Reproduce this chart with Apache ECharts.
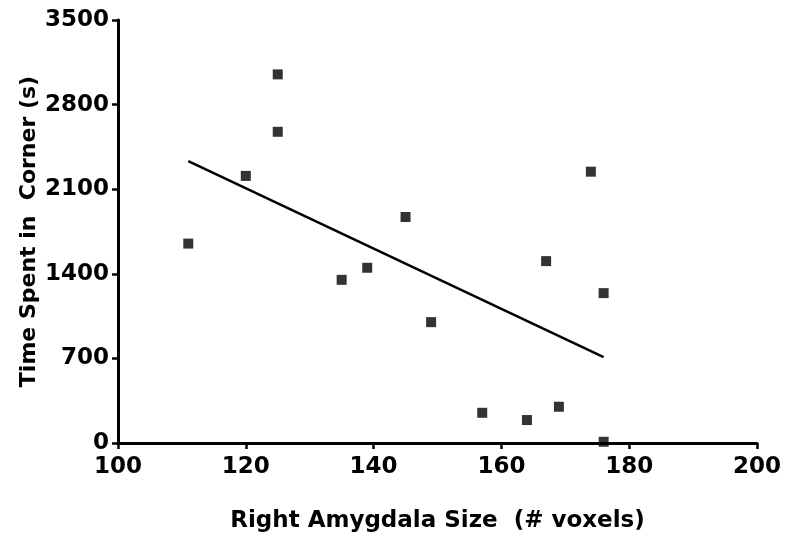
<!DOCTYPE html>
<html>
<head>
<meta charset="utf-8">
<script src="https://cdn.jsdelivr.net/npm/echarts@6/dist/echarts.min.js"></script>
<style>
  html, body { margin: 0; padding: 0; background: #fff; }
  #chart { width: 787px; height: 542px; }
</style>
</head>
<body>
<div id="chart"></div>
<script>
// Amygdala size vs time spent in corner
const amygdalaSize = [111, 120, 125, 125, 135, 139, 145, 149, 157, 164, 167, 169, 174, 176, 176];
const cornerTime = [1650, 2210, 3050, 2575, 1350, 1450, 1870, 1000, 250, 190, 1505, 300, 2245, 1240, 10];

// Regression line end points
const fitX = [111, 176];
const fitY = [2333, 711];

const yTicks = [0, 700, 1400, 2100, 2800, 3500];

const chart = echarts.init(document.getElementById('chart'));

const labelFont = {
    color: '#000',
    fontFamily: 'DejaVu Sans, sans-serif',
    fontWeight: 'bold'
};

chart.setOption({
    animation: false,
    backgroundColor: '#fff',
    grid: { left: 118, right: 30, top: 20, bottom: 99 },
    xAxis: {
        type: 'value',
        min: 100,
        max: 200,
        interval: 20,
        name: 'Right Amygdala Size  (# voxels)',
        nameLocation: 'middle',
        nameGap: 67,
        nameMoveOverlap: false,
        nameTextStyle: Object.assign({ fontSize: 23 }, labelFont),
        axisLine: { lineStyle: { color: '#000', width: 3 } },
        axisTick: { length: 6, lineStyle: { color: '#000', width: 2.5 } },
        axisLabel: Object.assign({ fontSize: 23, margin: 13 }, labelFont),
        splitLine: { show: false }
    },
    yAxis: {
        type: 'value',
        min: yTicks[0],
        max: yTicks[yTicks.length - 1],
        interval: 700,
        name: 'Time Spent in  Corner (s)',
        nameLocation: 'middle',
        nameGap: 78,
        nameMoveOverlap: false,
        nameTextStyle: Object.assign({ fontSize: 22 }, labelFont),
        axisLine: { show: true, lineStyle: { color: '#000', width: 3 } },
        axisTick: { show: true, length: 6, lineStyle: { color: '#000', width: 2.5 } },
        axisLabel: Object.assign({ fontSize: 23, margin: 9, formatter: v => String(v) }, labelFont),
        splitLine: { show: false }
    },
    series: [
        {
            type: 'scatter',
            symbol: 'rect',
            symbolSize: 10,
            itemStyle: { color: '#000' },
            data: amygdalaSize.map((x, i) => [x, cornerTime[i]]),
            z: 3
        },
        {
            type: 'line',
            showSymbol: false,
            lineStyle: { color: '#000', width: 2.5 },
            data: fitX.map((x, i) => [x, fitY[i]]),
            z: 2
        }
    ]
});
</script>
</body>
</html>
